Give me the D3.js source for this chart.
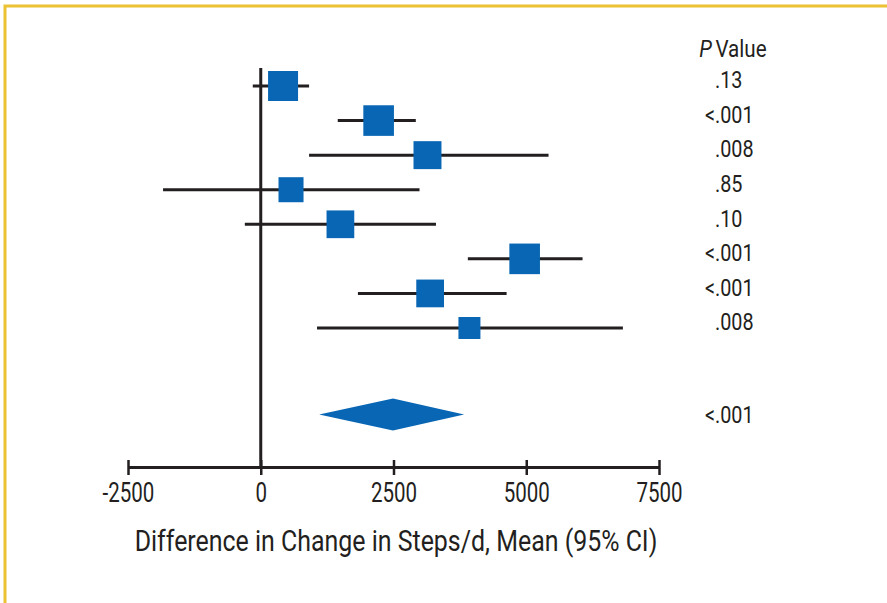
<!DOCTYPE html>
<html>
<head>
<meta charset="utf-8">
<script src="https://cdn.jsdelivr.net/npm/d3@7"></script>
<style>
  html, body { margin: 0; padding: 0; background: #fff; }
  svg { display: block; }
  text { font-family: Roboto, 'Liberation Sans', sans-serif; fill: #231f20; }
</style>
</head>
<body>
<svg id="canvas" width="887" height="603"></svg>
<script>
// study rows (top to bottom)
let means = [420, 2220, 3140, 570, 1500, 4970, 3190, 3930]
let lower = [-150, 1450, 910, -1840, -300, 3900, 1830, 1060]
let upper = [910, 2920, 5420, 2990, 3300, 6060, 4630, 6820]
let weights = [14.5, 15.1, 12.6, 10.1, 12.4, 15.1, 12.4, 7.8]
let pValues = ['.13', '<.001', '.008', '.85', '.10', '<.001', '<.001', '.008']

// pooled estimate
let pooledMean = 2490
let pooledLower = 1100
let pooledUpper = 3830
let pooledP = '<.001'

let tickValues = [-2500, 0, 2500, 5000, 7500]
let xTitle = 'Difference in Change in Steps/d, Mean (95% CI)'

let canvas = d3.select('#canvas')
let blue = '#0866b4'
let ink = '#231f20'

let x = d3.scaleLinear().domain([-2500, 7500]).range([128, 659])
let row = d3.scaleLinear().domain([0, 7]).range([86, 328])
let size = d3.scaleSqrt().domain([0, 15.1]).range([0, 30.6])
let pooledRow = 9.5
let axisY = 467

// condensed look: squeeze text horizontally around its anchor point
let squeeze = (sel, px, py, k) => sel.attr('transform', 'translate(' + px + ',' + py + ') scale(' + k + ',1)')

// yellow frame
canvas.append('path')
  .attr('d', 'M5,603 L5,6 L887,6')
  .attr('fill', 'none')
  .attr('stroke', '#ecc233')
  .attr('stroke-width', 3)

// zero line
canvas.append('line')
  .attr('x1', x(0)).attr('x2', x(0))
  .attr('y1', 68).attr('y2', axisY)
  .attr('stroke', ink)
  .attr('stroke-width', 3)

// x axis
let axis = canvas.append('g')
  .attr('transform', 'translate(0,' + axisY + ')')
  .call(d3.axisBottom(x).tickValues(tickValues).tickSizeOuter(0).tickFormat((d) => String(d)))

axis.select('.domain').attr('stroke', ink).attr('stroke-width', 3)
axis.selectAll('.tick line')
  .attr('y1', -7).attr('y2', 8)
  .attr('stroke', ink).attr('stroke-width', 2.5)
axis.selectAll('.tick text')
  .attr('y', 0)
  .attr('dy', 0)
  .attr('transform', 'translate(0,35) scale(0.76,1)')
  .style('font-size', '27px')
  .attr('fill', ink)

squeeze(canvas.append('text'), 396, 551, 0.86)
  .attr('text-anchor', 'middle')
  .style('font-size', '29px')
  .text(xTitle)

// confidence intervals
let studies = canvas.selectAll('g.study')
  .data(means)
  .enter()
  .append('g')
  .attr('class', 'study')

studies.append('line')
  .attr('x1', (d, i) => x(lower[i]))
  .attr('x2', (d, i) => x(upper[i]))
  .attr('y1', (d, i) => row(i))
  .attr('y2', (d, i) => row(i))
  .attr('stroke', ink)
  .attr('stroke-width', 3)

studies.append('rect')
  .attr('x', (d, i) => x(d) - size(weights[i]) / 2)
  .attr('y', (d, i) => row(i) - size(weights[i]) / 2)
  .attr('width', (d, i) => size(weights[i]))
  .attr('height', (d, i) => size(weights[i]))
  .attr('fill', blue)

// pooled diamond
let py = row(pooledRow)
canvas.append('path')
  .attr('d', 'M' + x(pooledLower) + ',' + py +
    ' L' + x(pooledMean) + ',' + (py - 16) +
    ' L' + x(pooledUpper) + ',' + py +
    ' L' + x(pooledMean) + ',' + (py + 16) + ' Z')
  .attr('fill', blue)

// P value column, aligned on the decimal point
let pCol = 715
let header = squeeze(canvas.append('text'), 733, 57, 0.86)
  .attr('text-anchor', 'middle')
  .style('font-size', '24px')
header.append('tspan').style('font-style', 'italic').text('P')
header.append('tspan').attr('dx', 4).text('Value')

let pRows = pValues.map((p, i) => ({ p: p, y: row(i) - 6 }))
pRows.push({ p: pooledP, y: py })

pRows.forEach((r) => {
  let parts = r.p.split('.')
  squeeze(canvas.append('text'), pCol, r.y, 0.86)
    .attr('dy', '0.36em')
    .attr('text-anchor', 'end')
    .style('font-size', '23px')
    .text(parts[0])
  squeeze(canvas.append('text'), pCol, r.y, 0.86)
    .attr('dy', '0.36em')
    .style('font-size', '23px')
    .text('.' + parts[1])
})
</script>
</body>
</html>
